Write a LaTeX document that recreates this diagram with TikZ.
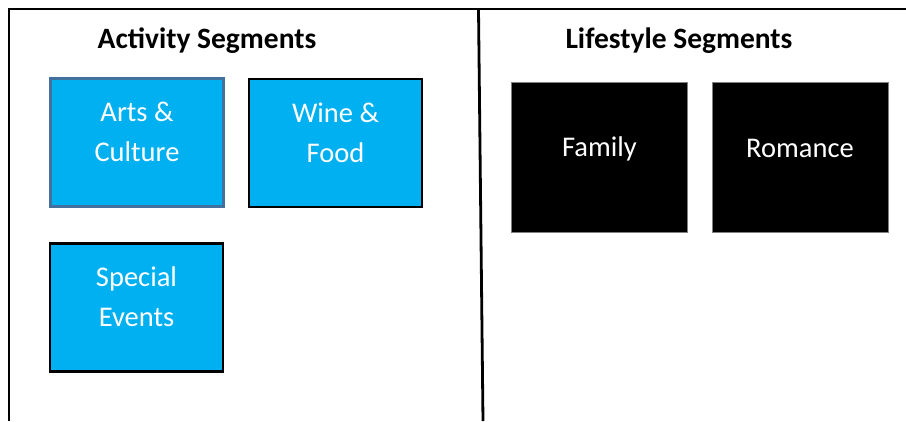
\documentclass[tikz,border=0pt]{standalone}
\usepackage{fontspec}
\setmainfont{Carlito}
\definecolor{segblue}{HTML}{00B0F0}
\definecolor{edgeblue}{HTML}{41719C}
\begin{document}
\begin{tikzpicture}[x=1pt,y=-1pt,
  frame/.style={line width=2.8pt,black},
  actbox/.style={draw=black,line width=2.4pt,fill=segblue,minimum width=173pt,minimum height=128pt,inner sep=0pt},
  lifebox/.style={draw=gray,line width=0.8pt,fill=black,minimum width=176pt,minimum height=150pt,inner sep=0pt},
  boxtext/.style={text=white,font=\fontsize{28.5}{40}\selectfont,align=center,inner sep=0pt},
  title/.style={font=\bfseries\fontsize{29.5}{33}\selectfont,inner sep=0pt}]
\useasboundingbox (0,0) rectangle (906,421);
\fill[white] (0,0) rectangle (906,421);
% frame
\coordinate (tl) at (9,9);
\coordinate (tr) at (906,9);
\coordinate (bl) at (9,421);
\coordinate (dt) at (478.5,9);
\coordinate (db) at (483,421);
\draw[frame] (bl) -- (tl) -- (tr);
\draw[frame] (dt) -- (db);
% titles
\node[title] (acttitle) at (207,41) {Activity Segments};
\node[title] (lifetitle) at (679,41) {Lifestyle Segments};
% activity boxes
\node[actbox,draw=edgeblue] (arts) at (137,142.5) {};
\node[actbox] (wine) at (335.5,143) {};
\node[actbox] (special) at (136.5,307.5) {};
\node[boxtext] (artst) at ([yshift=10.5pt]arts.center) {Arts \&\\Culture};
\node[boxtext] (winet) at ([yshift=10.5pt]wine.center) {Wine \&\\Food};
\node[boxtext] (specialt) at ([yshift=10.5pt]special.center) {Special\\Events};
% lifestyle boxes
\node[lifebox] (family) at (599.5,157.5) {};
\node[lifebox] (romance) at (800,157.5) {};
\node[boxtext] (familyt) at ([yshift=9pt]family.center) {Family};
\node[boxtext] (romancet) at ([yshift=9pt]romance.center) {Romance};
\end{tikzpicture}
\end{document}
